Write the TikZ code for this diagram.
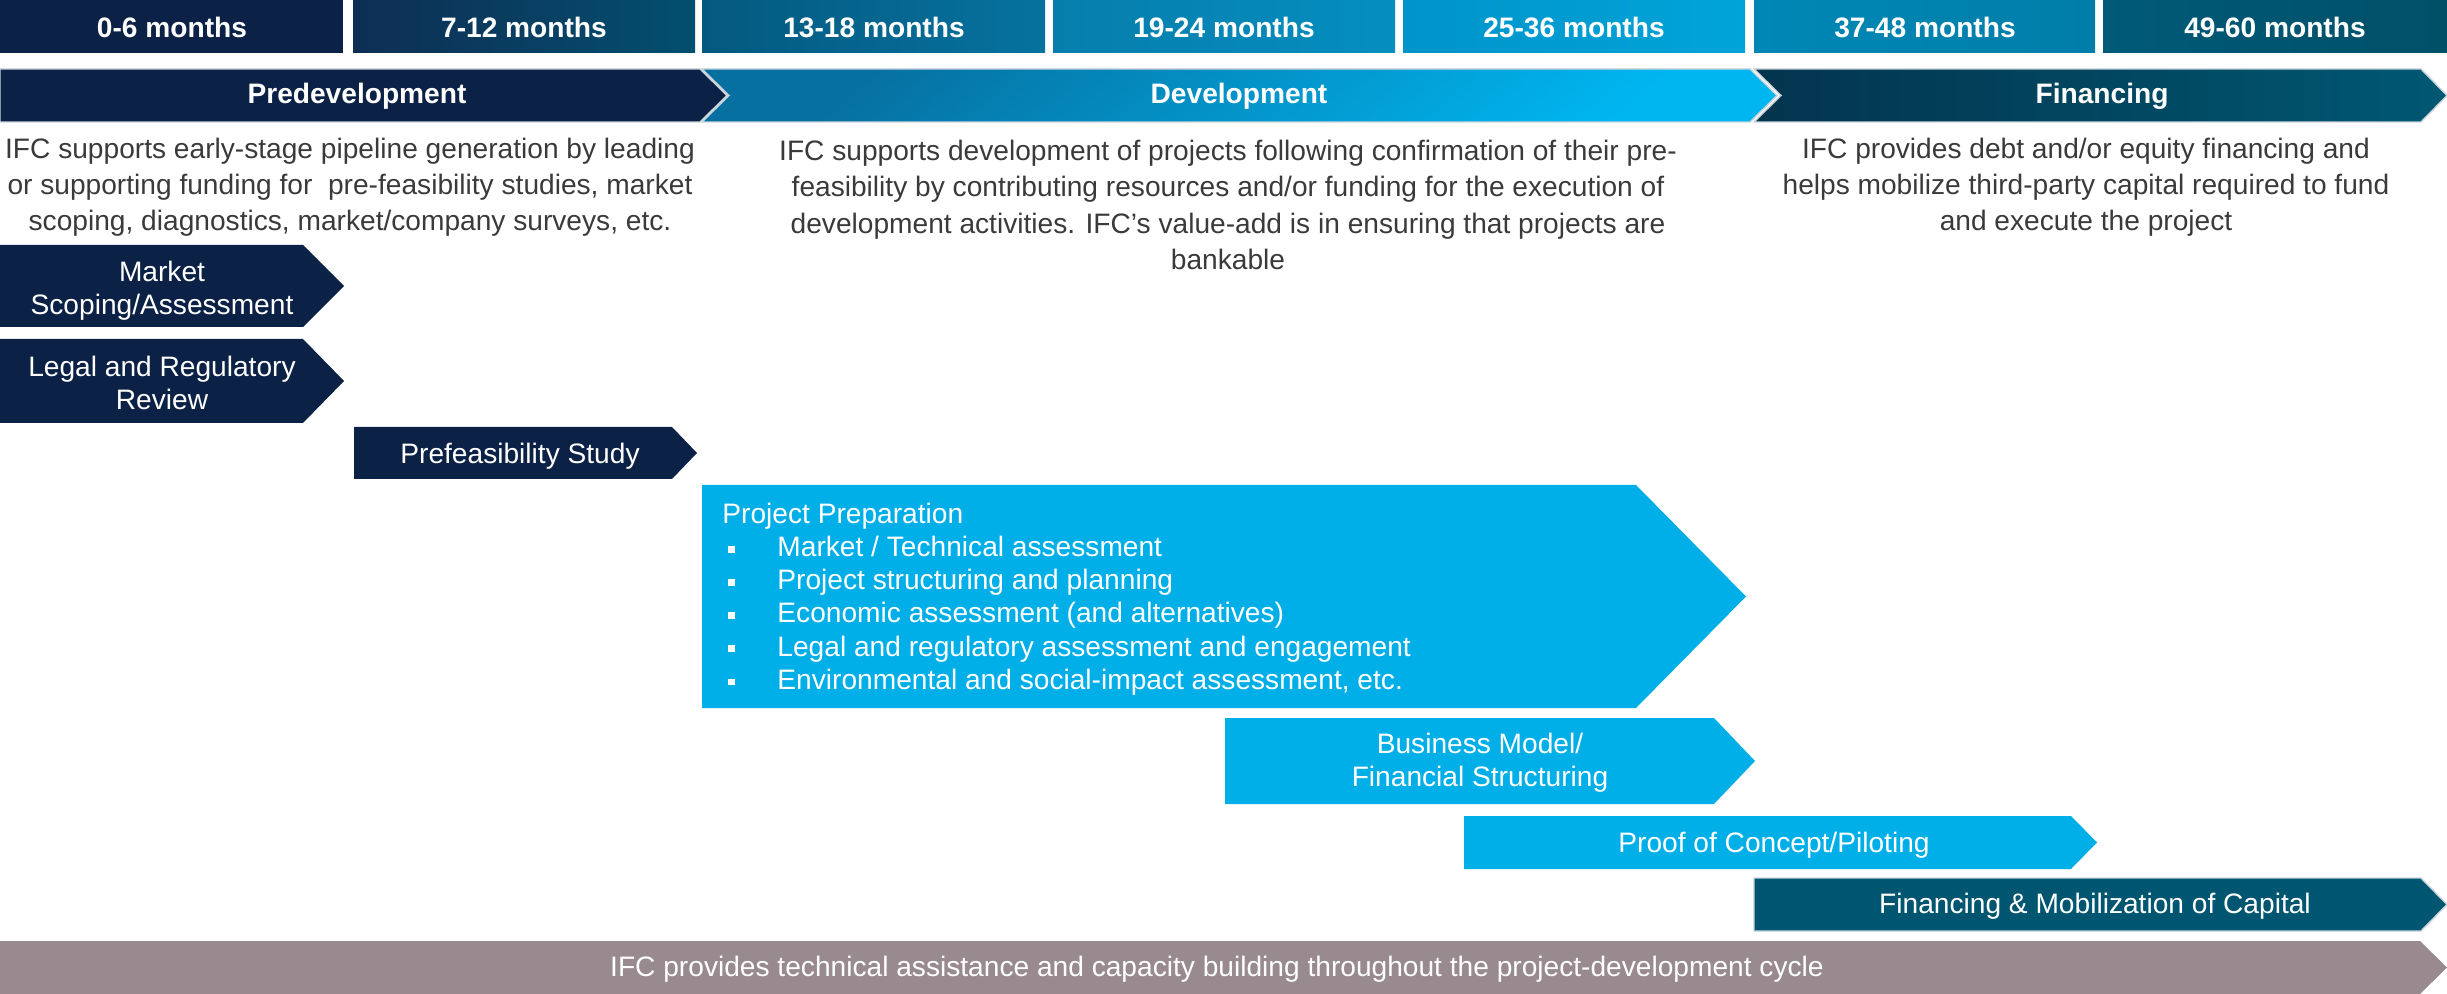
\documentclass[tikz,border=0pt]{standalone}
\usepackage{fontspec}
\setmainfont{Liberation Sans}
\usetikzlibrary{positioning}

\definecolor{navy}{HTML}{0B2145}
\definecolor{cyanb}{HTML}{00AEE8}
\definecolor{teal}{HTML}{005670}
\definecolor{mauve}{HTML}{988A8E}
\definecolor{txtgray}{HTML}{3A3A3A}
\definecolor{rim}{HTML}{C9D3DC}

\tikzset{
  hdr/.style={text=white, font=\fontsize{8}{9.6}\selectfont\bfseries},
  tag/.style={text=white, font=\fontsize{8}{9.4}\selectfont, align=center},
  desc/.style={text=txtgray, font=\fontsize{8}{10.3}\selectfont, align=center},
}
\newcommand{\pbul}{\makebox[0.55cm][l]{\hspace{0.06cm}\rule[1.1pt]{1.9pt}{1.9pt}}}

\begin{document}
\begin{tikzpicture}[x=0.01cm, y=-0.01cm]
 \useasboundingbox (0,0) rectangle (2447,994);

 % months
 \fill[navy] (0,0) rectangle (343,53);
 \shade[left color={rgb,255:red,14;green,46;blue,84}, right color={rgb,255:red,3;green,79;blue,111}] (353,0) rectangle (695,53);
 \shade[left color={rgb,255:red,4;green,89;blue,127}, right color={rgb,255:red,6;green,114;blue,159}] (702,0) rectangle (1045,53);
 \shade[left color={rgb,255:red,6;green,126;blue,172}, right color={rgb,255:red,4;green,142;blue,192}] (1053,0) rectangle (1395,53);
 \shade[left color={rgb,255:red,0;green,148;blue,202}, right color={rgb,255:red,0;green,164;blue,217}] (1403,0) rectangle (1745,53);
 \shade[left color={rgb,255:red,0;green,135;blue,181}, right color={rgb,255:red,0;green,126;blue,169}] (1754,0) rectangle (2095,53);
 \shade[left color={rgb,255:red,0;green,90;blue,120}, right color={rgb,255:red,0;green,80;blue,104}] (2103,0) rectangle (2447,53);
 \node (m1) [hdr] at (172,27) {0-6 months};
 \node (m2) [hdr] at (524,27) {7-12 months};
 \node (m3) [hdr] at (874,27) {13-18 months};
 \node (m4) [hdr] at (1224,27) {19-24 months};
 \node (m5) [hdr] at (1574,27) {25-36 months};
 \node (m6) [hdr] at (1925,27) {37-48 months};
 \node (m7) [hdr] at (2275,27) {49-60 months};

 % phases
 \fill[navy, draw=rim, line width=0.4pt] (0,69) -- (700,69) -- (727,95.5) -- (700,122) -- (0,122) -- cycle;
 \shade[top color={rgb,255:red,6;green,112;blue,160}, bottom color={rgb,255:red,0;green,182;blue,240}, shading angle=40, draw=rim, line width=0.4pt]
  (702,69) -- (1750,69) -- (1777,95.5) -- (1750,122) -- (702,122) -- (729,95.5) -- cycle;
 \shade[left color={rgb,255:red,3;green,52;blue,78}, right color={rgb,255:red,0;green,88;blue,114}, draw=rim, line width=0.4pt]
  (1754,69) -- (2421,69) -- (2447,95.5) -- (2421,122) -- (1754,122) -- (1781,95.5) -- cycle;
 \node (pd) [hdr] at (357,96) {Predevelopment};
 \node (dv) [hdr] at (1239,96) {Development};
 \node (fn) [hdr] at (2102,96) {Financing};

 \node (pdtxt) [desc] at (350,187) {IFC supports early-stage pipeline generation by leading\\
  or supporting funding for ~pre-feasibility studies, market\\
  scoping, diagnostics, market/company surveys, etc.};
 \node (dvtxt) [desc] at (1228,205) {IFC supports development of projects following confirmation of their pre-\\
  feasibility by contributing resources and/or funding for the execution of\\
  development activities. IFC’s value-add is in ensuring that projects are\\
  bankable};
 \node (fntxt) [desc] at (2086,187) {IFC provides debt and/or equity financing and\\
  helps mobilize third-party capital required to fund\\
  and execute the project};

 % activities
 \fill[navy] (0,245) -- (303,245) -- (344,286) -- (303,327) -- (0,327) -- cycle;
 \node (ms) [tag] at (162,291) {Market\\Scoping/Assessment};
 \fill[navy] (0,339) -- (303,339) -- (344,381) -- (303,423) -- (0,423) -- cycle;
 \node (lr) [tag] at (162,383) {Legal and Regulatory\\Review};
 \fill[navy] (354,427) -- (672,427) -- (697,453) -- (672,479) -- (354,479) -- cycle;
 \node (pf) [tag] at (520,456) {Prefeasibility Study};

 \fill[cyanb] (702,485) -- (1636,485) -- (1746,596.5) -- (1636,708) -- (702,708) -- cycle;
 \node (pp) [tag, align=left, anchor=north west] at (710,491) {Project Preparation\\
  \pbul Market / Technical assessment\\
  \pbul Project structuring and planning\\
  \pbul Economic assessment (and alternatives)\\
  \pbul Legal and regulatory assessment and engagement\\
  \pbul Environmental and social-impact assessment, etc.};

 \fill[cyanb] (1225,718) -- (1714,718) -- (1755,761) -- (1714,804) -- (1225,804) -- cycle;
 \node (bm) [tag] at (1480,763) {Business Model/\\Financial Structuring};
 \fill[cyanb] (1464,816) -- (2071,816) -- (2097,842.5) -- (2071,869) -- (1464,869) -- cycle;
 \node (pc) [tag] at (1774,845) {Proof of Concept/Piloting};
 \fill[teal, draw=rim, line width=0.4pt] (1754,878) -- (2421,878) -- (2447,904.5) -- (2421,931) -- (1754,931) -- cycle;
 \node (fm) [tag] at (2095,906) {Financing \& Mobilization of Capital};

 \fill[mauve] (0,941) -- (2420,941) -- (2447,967.5) -- (2420,994) -- (0,994) -- cycle;
 \node (ta) [tag] at (1217,969) {IFC provides technical assistance and capacity building throughout the project-development cycle};
\end{tikzpicture}
\end{document}
